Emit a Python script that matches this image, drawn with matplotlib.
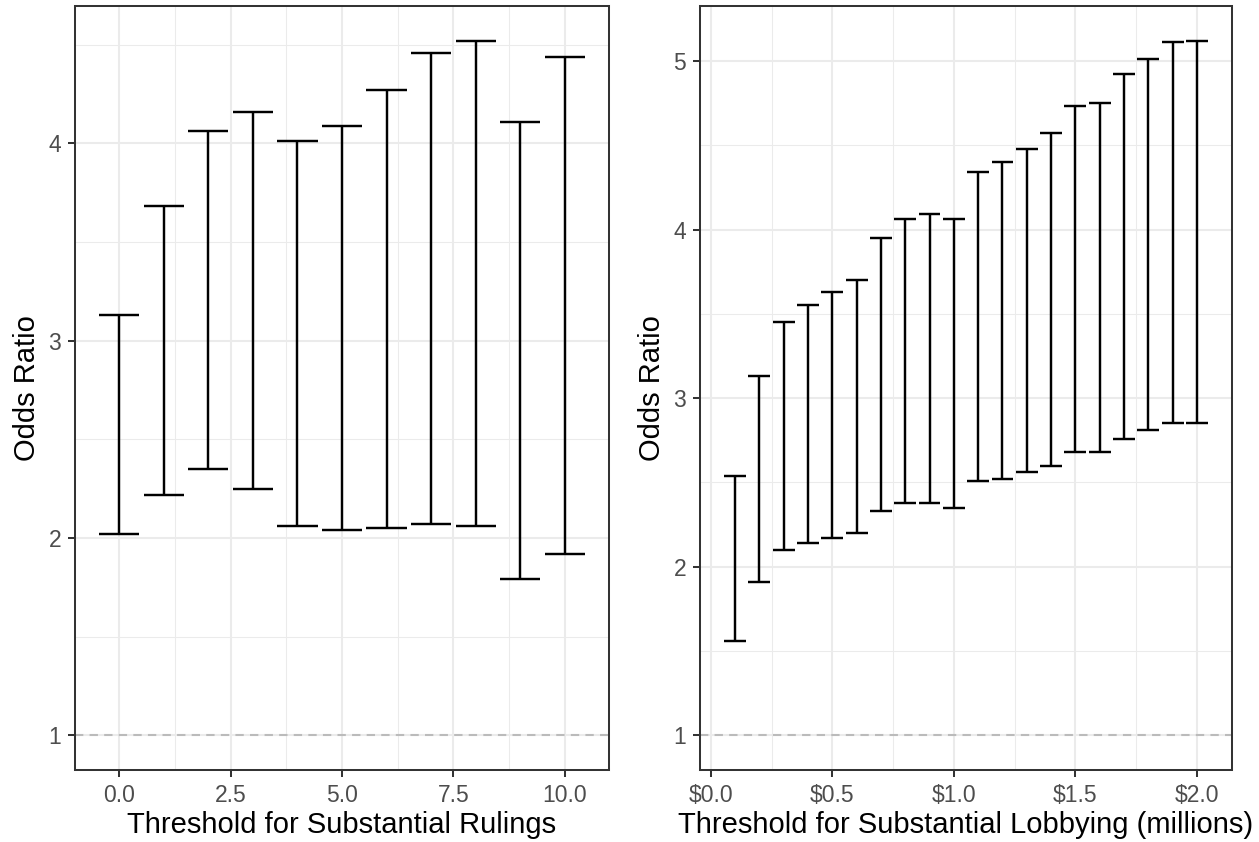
import numpy as np
import matplotlib.pyplot as plt
from matplotlib.ticker import FixedLocator, FuncFormatter

plt.rcParams['font.family'] = ['Liberation Sans', 'DejaVu Sans']
plt.rcParams['lines.scale_dashes'] = False

# left panel: threshold for substantial rulings
rulings_x = [0, 1, 2, 3, 4, 5, 6, 7, 8, 9, 10]
rulings_low = [2.02, 2.22, 2.35, 2.25, 2.06, 2.04, 2.05, 2.07, 2.06, 1.79, 1.92]
rulings_high = [3.13, 3.68, 4.06, 4.16, 4.01, 4.09, 4.27, 4.46, 4.52, 4.11, 4.44]

# right panel: threshold for substantial lobbying (millions)
lobby_x = [0.1, 0.2, 0.3, 0.4, 0.5, 0.6, 0.7, 0.8, 0.9, 1.0,
           1.1, 1.2, 1.3, 1.4, 1.5, 1.6, 1.7, 1.8, 1.9, 2.0]
lobby_low = [1.56, 1.91, 2.10, 2.14, 2.17, 2.20, 2.33, 2.38, 2.38, 2.35,
             2.51, 2.52, 2.56, 2.60, 2.68, 2.68, 2.76, 2.81, 2.85, 2.85]
lobby_high = [2.54, 3.13, 3.45, 3.55, 3.63, 3.70, 3.95, 4.06, 4.09, 4.06,
              4.34, 4.40, 4.48, 4.57, 4.73, 4.75, 4.92, 5.01, 5.11, 5.12]

tick_col = '#4D4D4D'
border_col = '#333333'
grid_col = '#EBEBEB'


def draw_panel(ax, x, low, high, half_w, xmajor, xminor, ymajor, yminor, xfmt, xlabel):
    x = np.asarray(x)
    low = np.asarray(low)
    high = np.asarray(high)

    xlo, xhi = x.min() - half_w, x.max() + half_w
    ylo, yhi = min(1.0, low.min()), high.max()
    dx, dy = (xhi - xlo) * 0.05, (yhi - ylo) * 0.05
    ax.set_xlim(xlo - dx, xhi + dx)
    ax.set_ylim(ylo - dy, yhi + dy)

    ax.xaxis.set_major_locator(FixedLocator(xmajor))
    ax.xaxis.set_minor_locator(FixedLocator(xminor))
    ax.yaxis.set_major_locator(FixedLocator(ymajor))
    ax.yaxis.set_minor_locator(FixedLocator(yminor))
    ax.xaxis.set_major_formatter(FuncFormatter(xfmt))
    ax.yaxis.set_major_formatter(FuncFormatter(lambda v, p: '%d' % v))

    ax.set_axisbelow(True)
    ax.grid(which='major', color=grid_col, lw=1.45)
    ax.grid(which='minor', color=grid_col, lw=0.75)

    ax.axhline(1, color='#BBBBBB', lw=1.5, ls=(0, (6, 4.5)), zorder=1.5)

    ax.vlines(x, low, high, color='black', lw=1.75, zorder=3)
    ax.hlines(low, x - half_w, x + half_w, color='black', lw=1.75, zorder=3)
    ax.hlines(high, x - half_w, x + half_w, color='black', lw=1.75, zorder=3)

    for s in ax.spines.values():
        s.set_color(border_col)
        s.set_linewidth(1.45)
    ax.tick_params(which='major', length=5, width=1.45, color=border_col,
                   labelcolor=tick_col, labelsize=16.5, pad=5)
    ax.tick_params(which='minor', length=0)

    ax.set_xlabel(xlabel, fontsize=21, labelpad=3)
    ax.set_ylabel('Odds Ratio', fontsize=21, labelpad=5)


fig = plt.figure(figsize=(12.59, 8.42), dpi=100)
ax1 = fig.add_axes([75 / 1259, 1 - 770 / 842, 534 / 1259, 764 / 842])
ax2 = fig.add_axes([700 / 1259, 1 - 770 / 842, 532 / 1259, 764 / 842])

draw_panel(ax1, rulings_x, rulings_low, rulings_high, 0.45,
           [0, 2.5, 5, 7.5, 10], [1.25, 3.75, 6.25, 8.75],
           [1, 2, 3, 4], [1.5, 2.5, 3.5, 4.5],
           lambda v, p: '%.1f' % v, 'Threshold for Substantial Rulings')

draw_panel(ax2, lobby_x, lobby_low, lobby_high, 0.045,
           [0, 0.5, 1.0, 1.5, 2.0], [0.25, 0.75, 1.25, 1.75],
           [1, 2, 3, 4, 5], [1.5, 2.5, 3.5, 4.5],
           lambda v, p: '$%.1f' % v, 'Threshold for Substantial Lobbying (millions)')

fig.savefig('out.png', dpi=100)
plt.close(fig)
